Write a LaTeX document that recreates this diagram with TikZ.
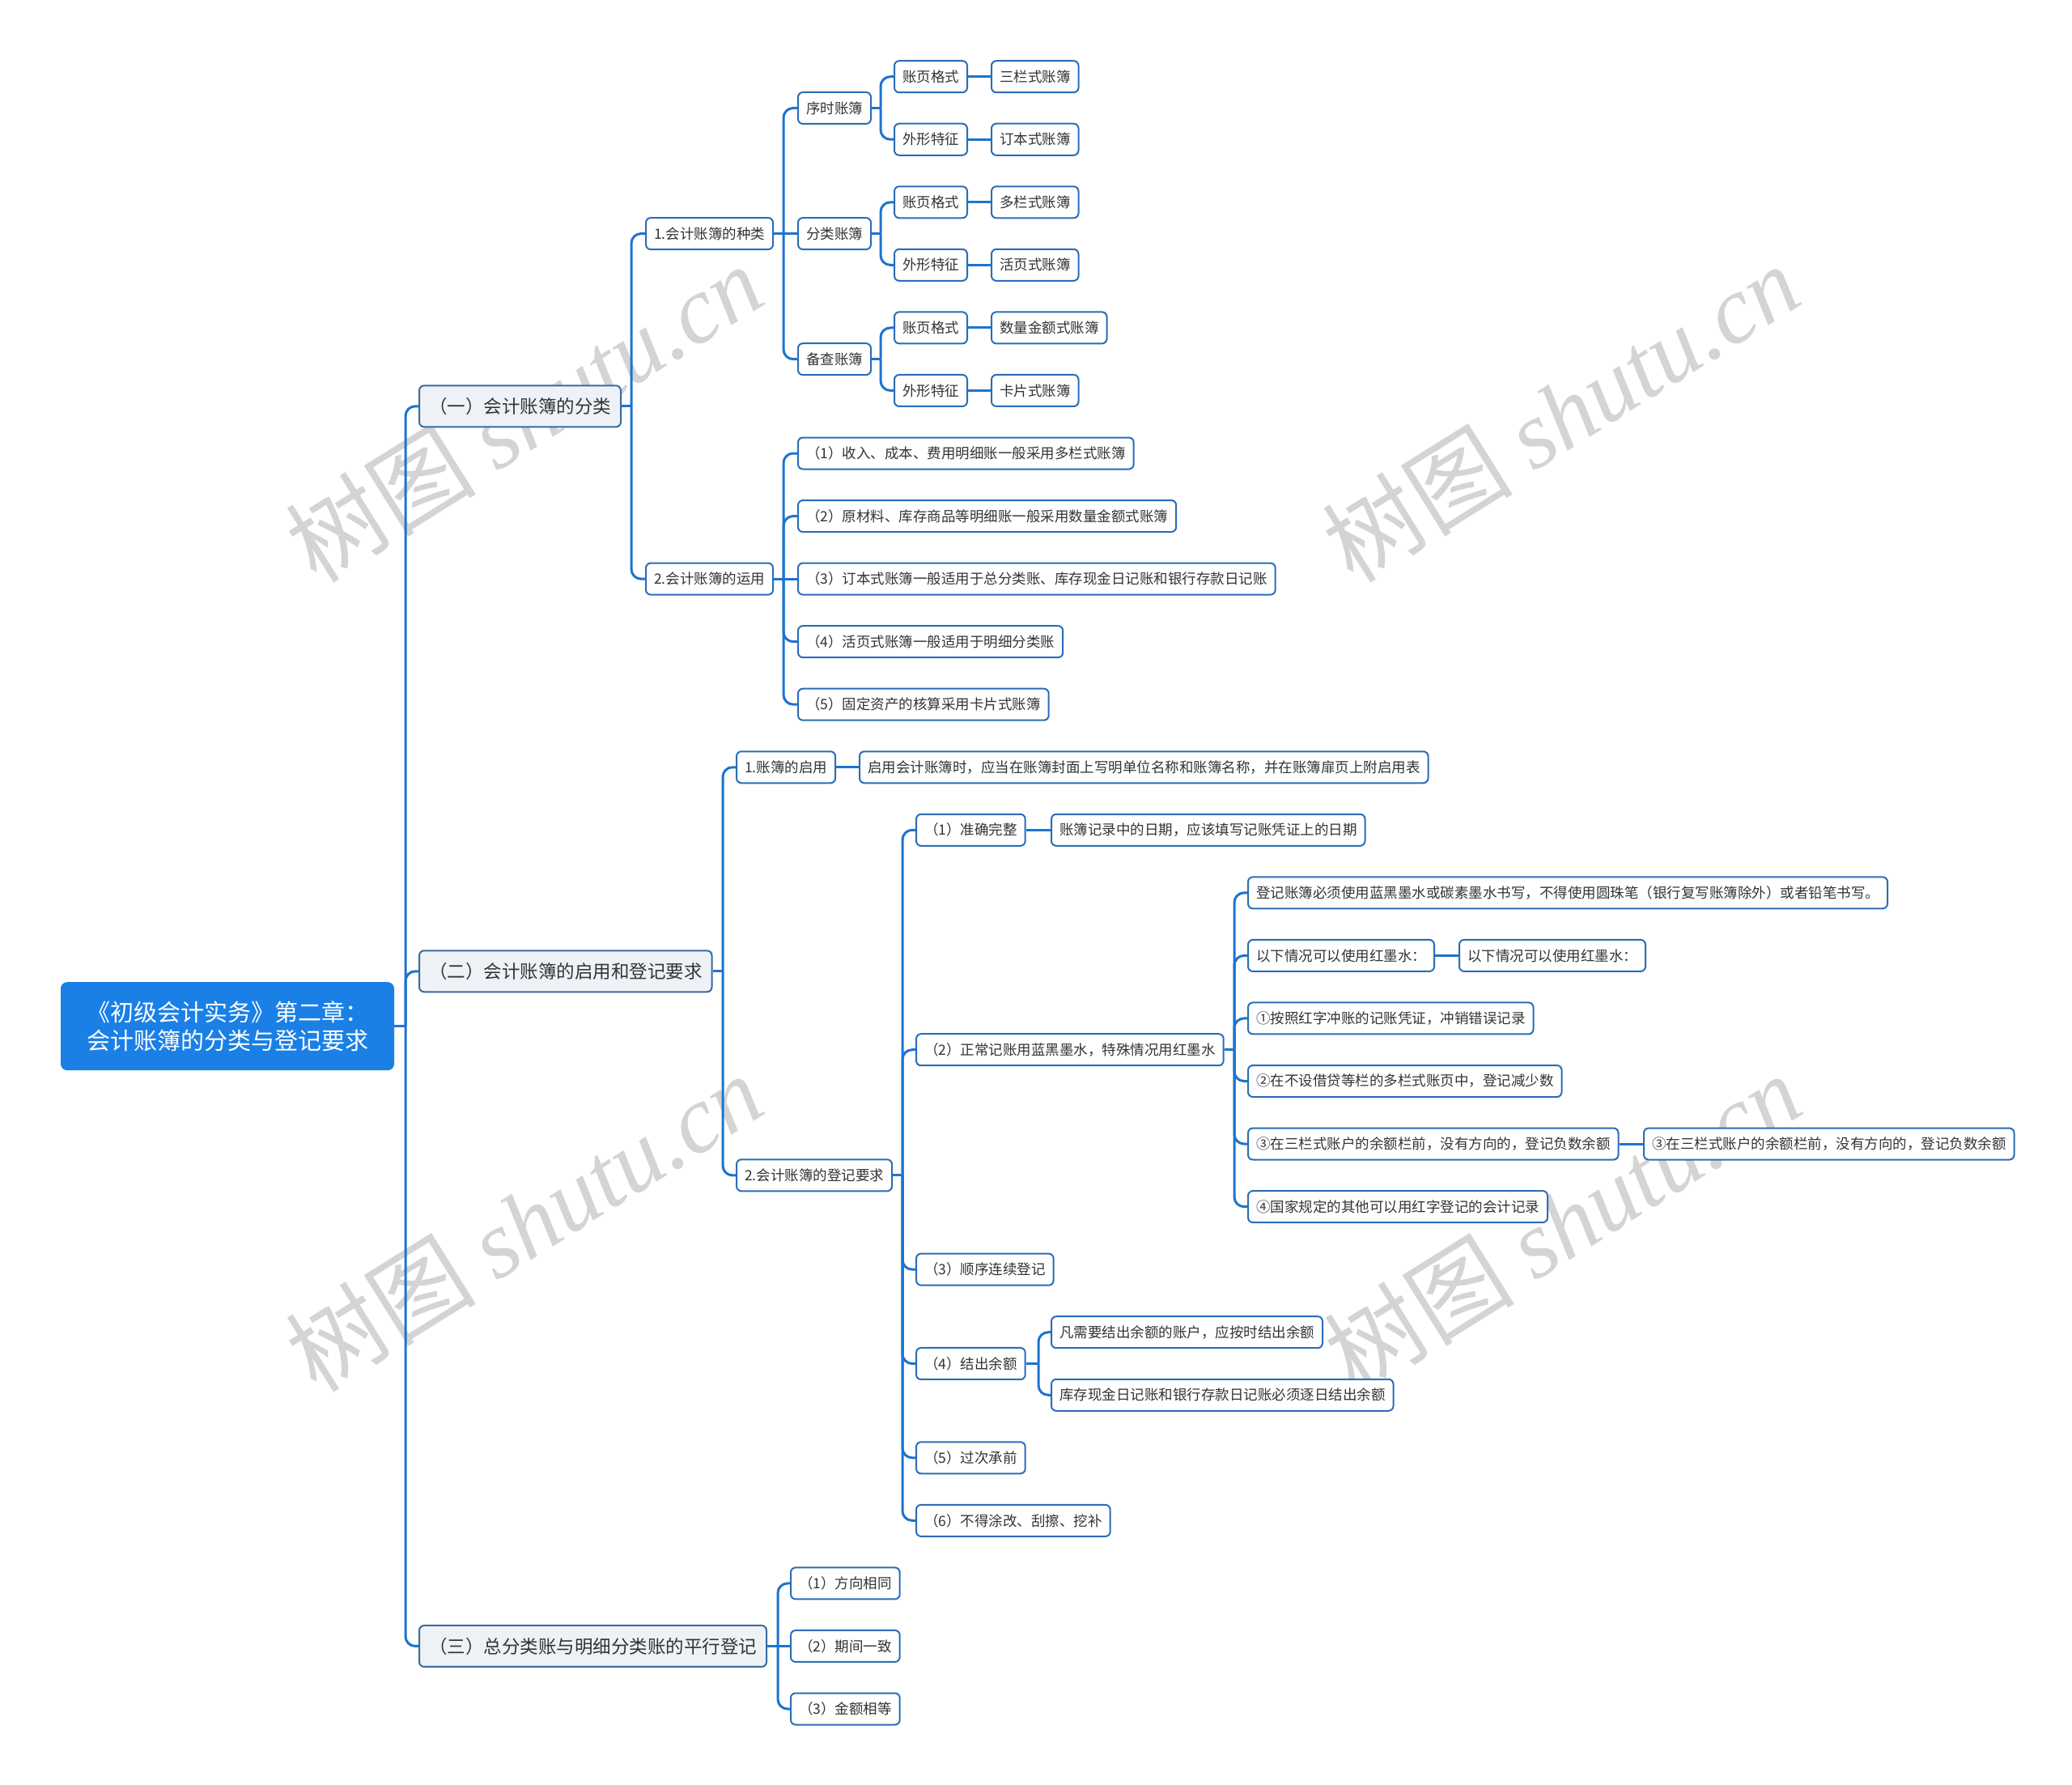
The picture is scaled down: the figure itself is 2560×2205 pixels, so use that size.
\documentclass[tikz,border=0pt]{standalone}
\usepackage{fontspec}
\setmainfont{Noto Sans CJK SC}
\newfontfamily\wmfont{Liberation Serif}
\usetikzlibrary{calc}
\definecolor{connc}{HTML}{1C74D0}
\definecolor{leafb}{HTML}{2A6DB8}
\definecolor{lonef}{HTML}{EEF2F7}
\definecolor{loneb}{HTML}{3A6A9E}
\definecolor{rootc}{HTML}{1A80E6}
\definecolor{txt}{HTML}{333333}
\definecolor{wmc}{HTML}{D4D4D4}
\tikzset{
  basebox/.style={rounded corners=6, line width=2, anchor=west, inner xsep=10, inner ysep=0,
    minimum height=39, text=txt, font=\fontsize{17.5}{20}\selectfont},
  leaf/.style={basebox, draw=leafb, fill=white},
  lone/.style={basebox, draw=loneb, fill=lonef, minimum height=51, inner xsep=12,
    font=\fontsize{22.5}{26}\selectfont},
  rootn/.style={fill=rootc, text=white, rounded corners=8, minimum width=412, minimum height=109,
    align=center, font=\fontsize{29}{35}\selectfont, anchor=center},
  cline/.style={draw=connc, line width=3},
  wm/.style={text=wmc, font=\fontsize{118}{120}\selectfont, rotate=32, anchor=center},
}
\newcommand\mystem[2]{\draw[cline] (#1.east) -- (#1.east -| #2);}
\newcommand\mybranch[3]{\draw[cline, rounded corners=12] (#1.east -| #2) |- (#3.west);}
\newcommand\mystraight[2]{\draw[cline] (#1.east) -- (#2.west);}
\begin{document}
\begin{tikzpicture}[x=1pt, y=-1pt, declare function={rowy(\k)=94.7+77.55*\k;}]
\fill[white] (0,0) rectangle (2560,2205);
\useasboundingbox (0,0) rectangle (2560,2205);
% watermarks
\node[wm] (w1) at (647,510) {树图 {\wmfont\itshape shutu.cn}};
\node[wm] (w2) at (1928,510) {树图 {\wmfont\itshape shutu.cn}};
\node[wm] (w3) at (647,1510) {树图 {\wmfont\itshape shutu.cn}};
\node[wm] (w4) at (1930,1510) {树图 {\wmfont\itshape shutu.cn}};
% trunks
\coordinate (t0) at (501,0);
\coordinate (tA) at (780,0);
\coordinate (tB) at (968,0);
\coordinate (tC) at (1088,0);
\coordinate (tD) at (893,0);
\coordinate (tE) at (1115,0);
\coordinate (tF) at (1525,0);
\coordinate (tG) at (1283,0);
\coordinate (tH) at (961,0);
% root
\node[rootn] (root) at (281,{rowy(15.125)}) {《初级会计实务》第二章：\\会计账簿的分类与登记要求};
% level 1
\node[lone] (a1) at (517,{rowy(5.25)}) {（一）会计账簿的分类};
\node[lone] (a2) at (517,{rowy(14.25)}) {（二）会计账簿的启用和登记要求};
\node[lone] (a3) at (517,{rowy(25)}) {（三）总分类账与明细分类账的平行登记};
% (一)
\node[leaf] (b1) at (797,{rowy(2.5)}) {1.会计账簿的种类};
\node[leaf] (b2) at (797,{rowy(8)}) {2.会计账簿的运用};
\node[leaf] (c1) at (985,{rowy(0.5)}) {序时账簿};
\node[leaf] (c2) at (985,{rowy(2.5)}) {分类账簿};
\node[leaf] (c3) at (985,{rowy(4.5)}) {备查账簿};
\node[leaf] (d11) at (1104,{rowy(0)}) {账页格式};
\node[leaf] (d12) at (1104,{rowy(1)}) {外形特征};
\node[leaf] (d21) at (1104,{rowy(2)}) {账页格式};
\node[leaf] (d22) at (1104,{rowy(3)}) {外形特征};
\node[leaf] (d31) at (1104,{rowy(4)}) {账页格式};
\node[leaf] (d32) at (1104,{rowy(5)}) {外形特征};
\node[leaf] (e11) at (1224,{rowy(0)}) {三栏式账簿};
\node[leaf] (e12) at (1224,{rowy(1)}) {订本式账簿};
\node[leaf] (e21) at (1224,{rowy(2)}) {多栏式账簿};
\node[leaf] (e22) at (1224,{rowy(3)}) {活页式账簿};
\node[leaf] (e31) at (1224,{rowy(4)}) {数量金额式账簿};
\node[leaf] (e32) at (1224,{rowy(5)}) {卡片式账簿};
\node[leaf] (f1) at (985,{rowy(6)}) {（1）收入、成本、费用明细账一般采用多栏式账簿};
\node[leaf] (f2) at (985,{rowy(7)}) {（2）原材料、库存商品等明细账一般采用数量金额式账簿};
\node[leaf] (f3) at (985,{rowy(8)}) {（3）订本式账簿一般适用于总分类账、库存现金日记账和银行存款日记账};
\node[leaf] (f4) at (985,{rowy(9)}) {（4）活页式账簿一般适用于明细分类账};
\node[leaf] (f5) at (985,{rowy(10)}) {（5）固定资产的核算采用卡片式账簿};
% (二)
\node[leaf] (g1) at (909,{rowy(11)}) {1.账簿的启用};
\node[leaf] (g1x) at (1061,{rowy(11)}) {启用会计账簿时，应当在账簿封面上写明单位名称和账簿名称，并在账簿扉页上附启用表};
\node[leaf] (g2) at (909,{rowy(17.5)}) {2.会计账簿的登记要求};
\node[leaf] (h1) at (1131,{rowy(12)}) {（1）准确完整};
\node[leaf] (h1x) at (1298,{rowy(12)}) {账簿记录中的日期，应该填写记账凭证上的日期};
\node[leaf] (h2) at (1131,{rowy(15.5)}) {（2）正常记账用蓝黑墨水，特殊情况用红墨水};
\node[leaf] (i1) at (1541,{rowy(13)}) {登记账簿必须使用蓝黑墨水或碳素墨水书写，不得使用圆珠笔（银行复写账簿除外）或者铅笔书写。};
\node[leaf] (i2) at (1541,{rowy(14)}) {以下情况可以使用红墨水：};
\node[leaf] (i2x) at (1802,{rowy(14)}) {以下情况可以使用红墨水：};
\node[leaf] (i3) at (1541,{rowy(15)}) {①按照红字冲账的记账凭证，冲销错误记录};
\node[leaf] (i4) at (1541,{rowy(16)}) {②在不设借贷等栏的多栏式账页中，登记减少数};
\node[leaf] (i5) at (1541,{rowy(17)}) {③在三栏式账户的余额栏前，没有方向的，登记负数余额};
\node[leaf] (i5x) at (2030,{rowy(17)}) {③在三栏式账户的余额栏前，没有方向的，登记负数余额};
\node[leaf] (i6) at (1541,{rowy(18)}) {④国家规定的其他可以用红字登记的会计记录};
\node[leaf] (h3) at (1131,{rowy(19)}) {（3）顺序连续登记};
\node[leaf] (h4) at (1131,{rowy(20.5)}) {（4）结出余额};
\node[leaf] (j1) at (1298,{rowy(20)}) {凡需要结出余额的账户，应按时结出余额};
\node[leaf] (j2) at (1298,{rowy(21)}) {库存现金日记账和银行存款日记账必须逐日结出余额};
\node[leaf] (h5) at (1131,{rowy(22)}) {（5）过次承前};
\node[leaf] (h6) at (1131,{rowy(23)}) {（6）不得涂改、刮擦、挖补};
% (三)
\node[leaf] (k1) at (976,{rowy(24)}) {（1）方向相同};
\node[leaf] (k2) at (976,{rowy(25)}) {（2）期间一致};
\node[leaf] (k3) at (976,{rowy(26)}) {（3）金额相等};
% connectors
\mystem{root}{t0}
\mybranch{root}{t0}{a1}
\mybranch{root}{t0}{a2}
\mybranch{root}{t0}{a3}
\mystem{a1}{tA}
\mybranch{a1}{tA}{b1}
\mybranch{a1}{tA}{b2}
\mystem{b1}{tB}
\mybranch{b1}{tB}{c1}
\mystraight{b1}{c2}
\mybranch{b1}{tB}{c3}
\mystem{c1}{tC}
\mybranch{c1}{tC}{d11}
\mybranch{c1}{tC}{d12}
\mystem{c2}{tC}
\mybranch{c2}{tC}{d21}
\mybranch{c2}{tC}{d22}
\mystem{c3}{tC}
\mybranch{c3}{tC}{d31}
\mybranch{c3}{tC}{d32}
\mystraight{d11}{e11}
\mystraight{d12}{e12}
\mystraight{d21}{e21}
\mystraight{d22}{e22}
\mystraight{d31}{e31}
\mystraight{d32}{e32}
\mystem{b2}{tB}
\mybranch{b2}{tB}{f1}
\mybranch{b2}{tB}{f2}
\mystraight{b2}{f3}
\mybranch{b2}{tB}{f4}
\mybranch{b2}{tB}{f5}
\mystem{a2}{tD}
\mybranch{a2}{tD}{g1}
\mybranch{a2}{tD}{g2}
\mystraight{g1}{g1x}
\mystem{g2}{tE}
\mybranch{g2}{tE}{h1}
\mybranch{g2}{tE}{h2}
\mybranch{g2}{tE}{h3}
\mybranch{g2}{tE}{h4}
\mybranch{g2}{tE}{h5}
\mybranch{g2}{tE}{h6}
\mystraight{h1}{h1x}
\mystem{h2}{tF}
\mybranch{h2}{tF}{i1}
\mybranch{h2}{tF}{i2}
\mybranch{h2}{tF}{i3}
\mybranch{h2}{tF}{i4}
\mybranch{h2}{tF}{i5}
\mybranch{h2}{tF}{i6}
\mystraight{i2}{i2x}
\mystraight{i5}{i5x}
\mystem{h4}{tG}
\mybranch{h4}{tG}{j1}
\mybranch{h4}{tG}{j2}
\mystem{a3}{tH}
\mybranch{a3}{tH}{k1}
\mystraight{a3}{k2}
\mybranch{a3}{tH}{k3}
\end{tikzpicture}
\end{document}
